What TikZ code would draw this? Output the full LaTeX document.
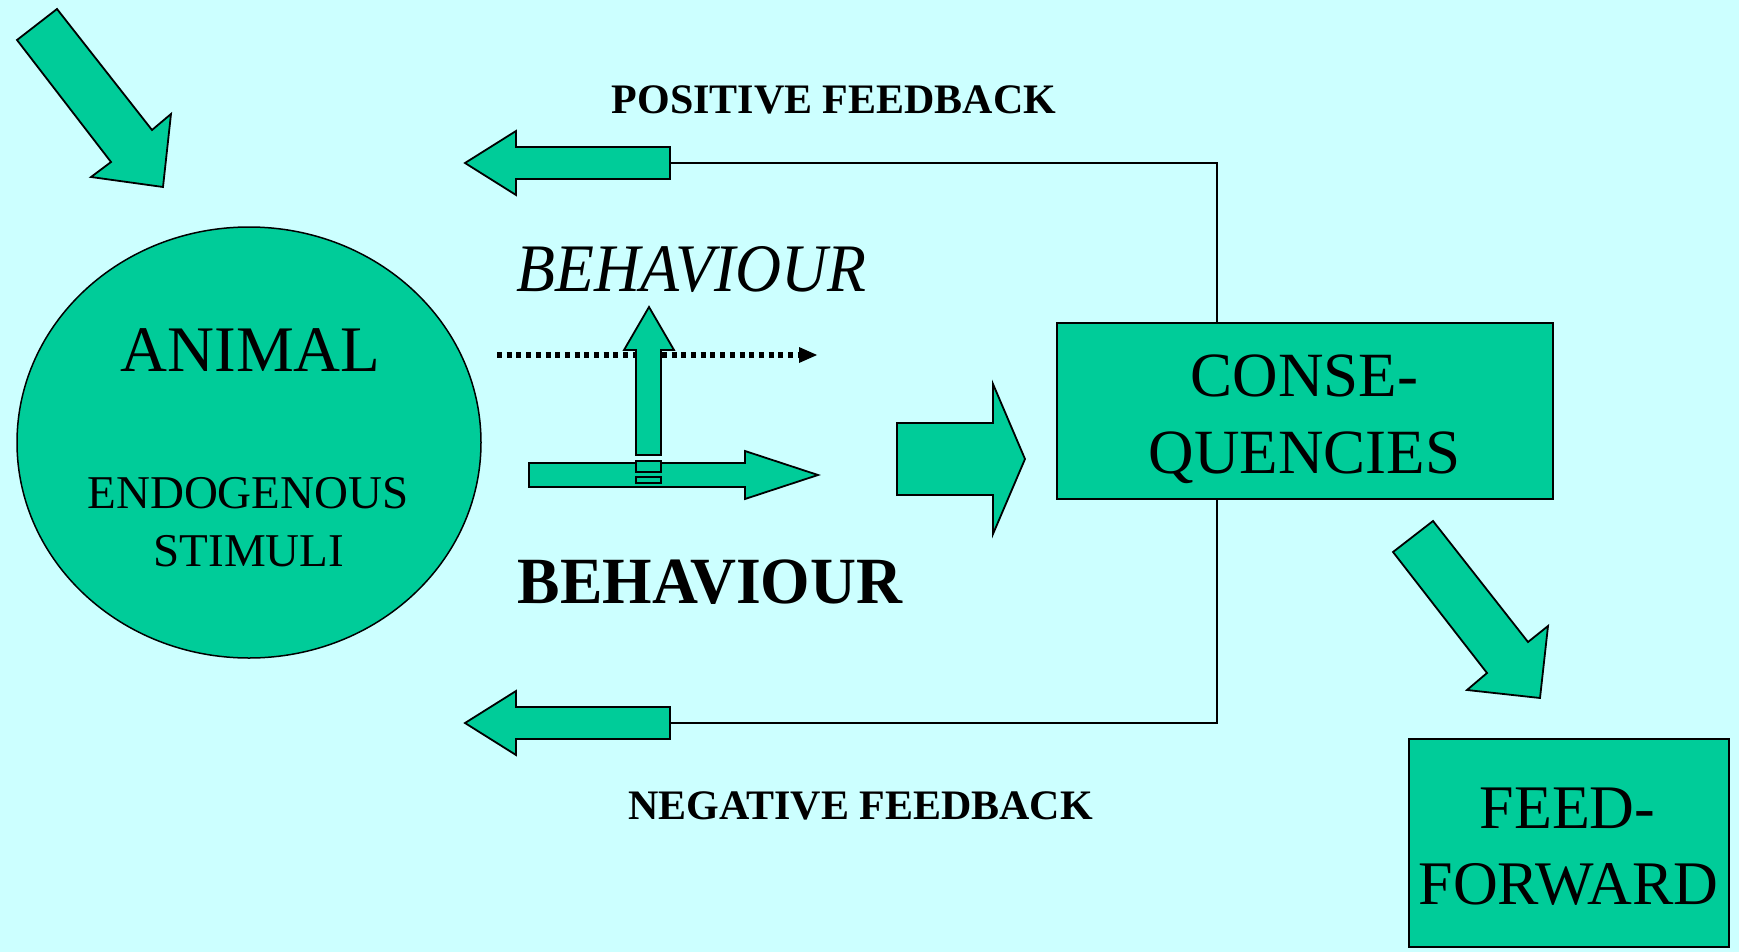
\documentclass[tikz,border=0pt]{standalone}
\usepackage{fontspec}
\setmainfont{Liberation Serif}
\usetikzlibrary{shapes.geometric}
\definecolor{bgc}{RGB}{204,255,255}
\definecolor{grn}{RGB}{0,204,153}
\begin{document}
\begin{tikzpicture}[x=1pt,y=-1pt,
  blockarrow/.style={fill=grn,draw=black,line width=1.8pt,line join=miter},
  boxnode/.style={draw=black,fill=grn,line width=1.8pt,inner sep=0pt},
  txt/.style={inner sep=0pt,anchor=base,text=black},
  fb/.style={draw=black,line width=2pt}]
\fill[bgc] (0,0) rectangle (1739,952);
\useasboundingbox (0,0) rectangle (1739,952);

% animal ellipse
\node[ellipse,boxnode,line width=1.5pt,minimum width=464pt,minimum height=431pt] (animal) at (249,442.5) {};
\node[txt,font=\fontsize{65}{78}\selectfont] (tanimal) at (250.5,371) {ANIMAL};
\node[txt,font=\fontsize{47}{56}\selectfont] (tendo) at (248,508) {ENDOGENOUS};
\node[txt,font=\fontsize{47}{56}\selectfont] (tstim) at (249,566) {STIMULI};

% stimulus arrow top-left
\draw[blockarrow] (57,9) -- (17,40) -- (111,162) -- (91,177) -- (163,187) -- (171,114) -- (152,130) -- cycle;

% consequences box
\node[boxnode,minimum width=496pt,minimum height=176pt] (cons) at (1305,411) {};
\node[txt,font=\fontsize{63}{75}\selectfont] (tcons1) at (1304.5,396) {CONSE-};
\node[txt,font=\fontsize{63}{75}\selectfont] (tcons2) at (1304.5,473) {QUENCIES};

% feedback lines
\coordinate (posend) at (670,163);
\coordinate (negend) at (670,723);
\coordinate (fbx) at (1217,163);
\draw[fb] (posend) -| (cons.north -| fbx);
\draw[fb] (cons.south -| fbx) |- (negend);

% feedback arrows
\draw[blockarrow] (465,163) -- (516,131) -- (516,147) -- (670,147) -- (670,179) -- (516,179) -- (516,195) -- cycle;
\draw[blockarrow] (465,723) -- (516,691) -- (516,707) -- (670,707) -- (670,739) -- (516,739) -- (516,755) -- cycle;
\node[txt,font=\bfseries\fontsize{42}{50}\selectfont] (tpos) at (834,114) {POSITIVE FEEDBACK};
\node[txt,font=\bfseries\fontsize{42}{50}\selectfont] (tneg) at (860.5,819) {NEGATIVE FEEDBACK};

% behaviour labels
\node[txt,font=\itshape\fontsize{68}{80}\selectfont] (tbehi) at (691.5,291) {\scalebox{0.937}[1]{BEHAVIOUR}};
\node[txt,font=\bfseries\fontsize{66}{78}\selectfont] (tbehb) at (710,603) {\scalebox{0.964}[1]{BEHAVIOUR}};

% dotted arrow
\coordinate (dl) at (497,355);
\coordinate (dr) at (799,355);
\draw[line width=5.5pt,dash pattern=on 5pt off 4.7pt] (dl) -- (dr);
\fill[black] (799,347) -- (817,355) -- (799,363) -- cycle;

% horizontal behaviour arrow
\draw[blockarrow] (529,463) -- (745,463) -- (745,451) -- (818,475) -- (745,499) -- (745,487) -- (529,487) -- cycle;
% vertical arrow
\draw[blockarrow] (636,455) -- (636,350) -- (624,350) -- (649,307) -- (674,350) -- (661,350) -- (661,455) -- cycle;
\draw[blockarrow] (636,461) rectangle (661,472);
\draw[blockarrow] (636,477) rectangle (661,483);

% big arrow to consequences
\draw[blockarrow] (897,423) -- (993,423) -- (993,384) -- (1025,459) -- (993,534) -- (993,495) -- (897,495) -- cycle;

% arrow to feed-forward
\draw[blockarrow] (1433,521) -- (1393,552) -- (1487,673) -- (1467,690) -- (1540,698) -- (1548,626) -- (1528,642) -- cycle;

% feed-forward box
\node[boxnode,minimum width=320pt,minimum height=208pt] (ff) at (1569,843) {};
\node[txt,font=\fontsize{62}{74}\selectfont] (tff1) at (1567.5,828) {FEED-};
\node[txt,font=\fontsize{62}{74}\selectfont] (tff2) at (1568.5,904) {FORWARD};
\end{tikzpicture}
\end{document}
